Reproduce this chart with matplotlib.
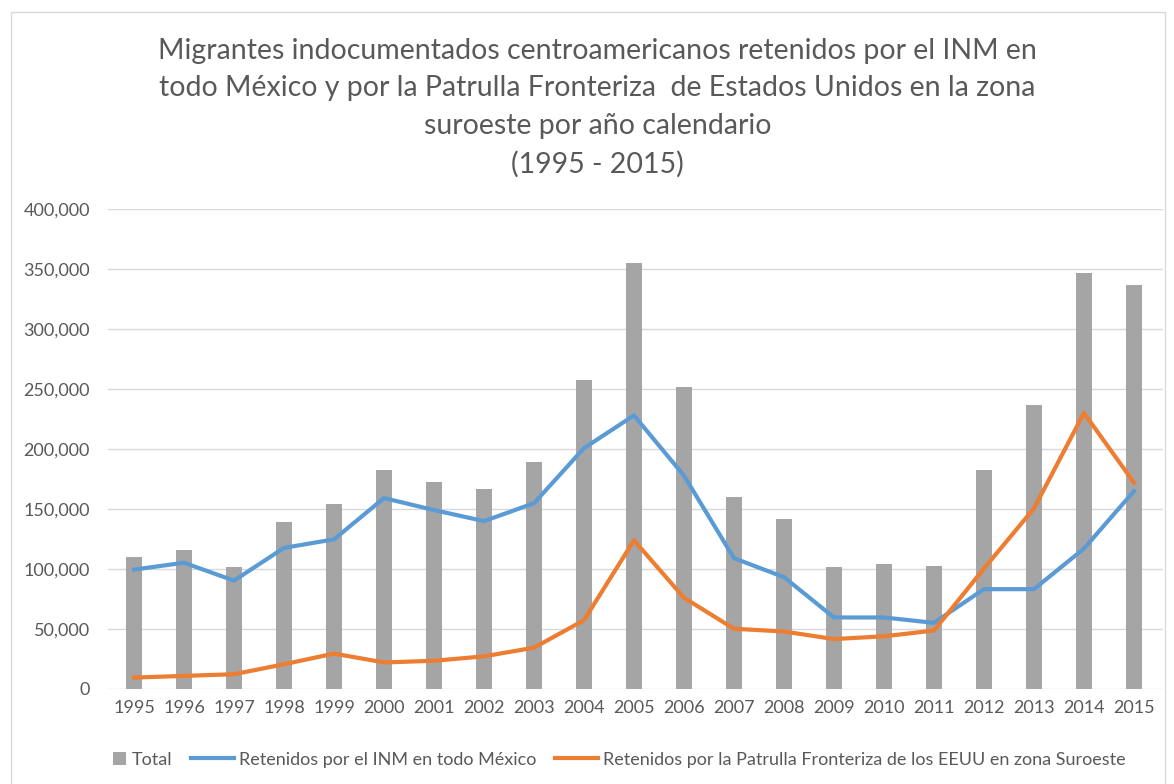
import matplotlib.pyplot as plt
from matplotlib.patches import Rectangle
from matplotlib.legend_handler import HandlerPatch
from matplotlib.ticker import FuncFormatter

years = [str(y) for y in range(1995, 2016)]
total = [110000, 115600, 101500, 139100, 154300, 182100, 172300, 166900, 189000, 257200,
         354700, 251500, 160000, 141900, 101500, 104400, 102900, 182100, 236600, 346400, 336300]
inm_mexico = [99500, 105200, 90300, 117600, 124700, 159100, 149100, 139900, 154800, 200700,
              228000, 177800, 109000, 93200, 59600, 59600, 55100, 83200, 83200, 117000, 164900]
patrulla_eeuu = [9500, 10900, 12300, 20600, 29500, 22100, 23500, 27200, 34400, 57300,
                 123900, 76000, 50200, 47900, 41600, 43900, 48700, 100400, 150500, 230000, 172000]

plt.rcParams['font.family'] = ['Lato', 'DejaVu Sans']
text_gray = '#595959'


def square_patch(legend, orig_handle, xdescent, ydescent, width, height, fontsize):
    # small square at the right end of the handle box, like Excel
    sq = height * 1.05
    return Rectangle((width - sq - xdescent, -ydescent + (height - sq) / 2), sq, sq)


fig = plt.figure(figsize=(11.74, 7.84), dpi=100)
ax = fig.add_axes([0.092, 0.1212, 0.8986, 0.6122])

x = range(len(years))
bars = ax.bar(x, total, width=0.31, color='#a5a5a5', label='Total', zorder=2)
l1, = ax.plot(x, inm_mexico, color='#5b9bd5', lw=3, label='Retenidos por el INM en todo México', zorder=3)
l2, = ax.plot(x, patrulla_eeuu, color='#ed7d31', lw=3,
              label='Retenidos por la Patrulla Fronteriza de los EEUU en zona Suroeste', zorder=3)

ax.set_xlim(-0.52, 20.58)
ax.set_ylim(0, 400000)
ax.set_yticks(range(0, 400001, 50000))
ax.yaxis.set_major_formatter(FuncFormatter(lambda v, p: f'{int(v):,}'))
ax.set_xticks(list(x))
ax.set_xticklabels(years)
ax.grid(axis='y', color='#d9d9d9', lw=1, zorder=0)
for s in ax.spines.values():
    s.set_visible(False)
ax.tick_params(length=0, labelsize=13, colors=text_gray, pad=8)
ax.tick_params(axis='y', pad=13)

fig.text(0.509, 0.952, 'Migrantes indocumentados centroamericanos retenidos por el INM en\n'
         'todo México y por la Patrulla Fronteriza  de Estados Unidos en la zona\n'
         'suroeste por año calendario\n(1995 - 2015)',
         ha='center', va='top', fontsize=20.5, color=text_gray, linespacing=1.55)

bar_handle = bars.patches[0]
fig.legend([bar_handle, l1, l2], [bars.get_label(), l1.get_label(), l2.get_label()],
           handler_map={bar_handle: HandlerPatch(patch_func=square_patch)},
           loc='center', bbox_to_anchor=(0.515, 0.031), ncol=3, frameon=False,
           fontsize=13, labelcolor=text_gray, handlelength=2.4, handletextpad=0.3,
           columnspacing=1.0)

fig.patches.append(Rectangle((0.009, -0.01), 0.983, 0.995, transform=fig.transFigure,
                             fill=False, edgecolor='#d9d9d9', lw=1))

fig.savefig('out.png', dpi=100)
